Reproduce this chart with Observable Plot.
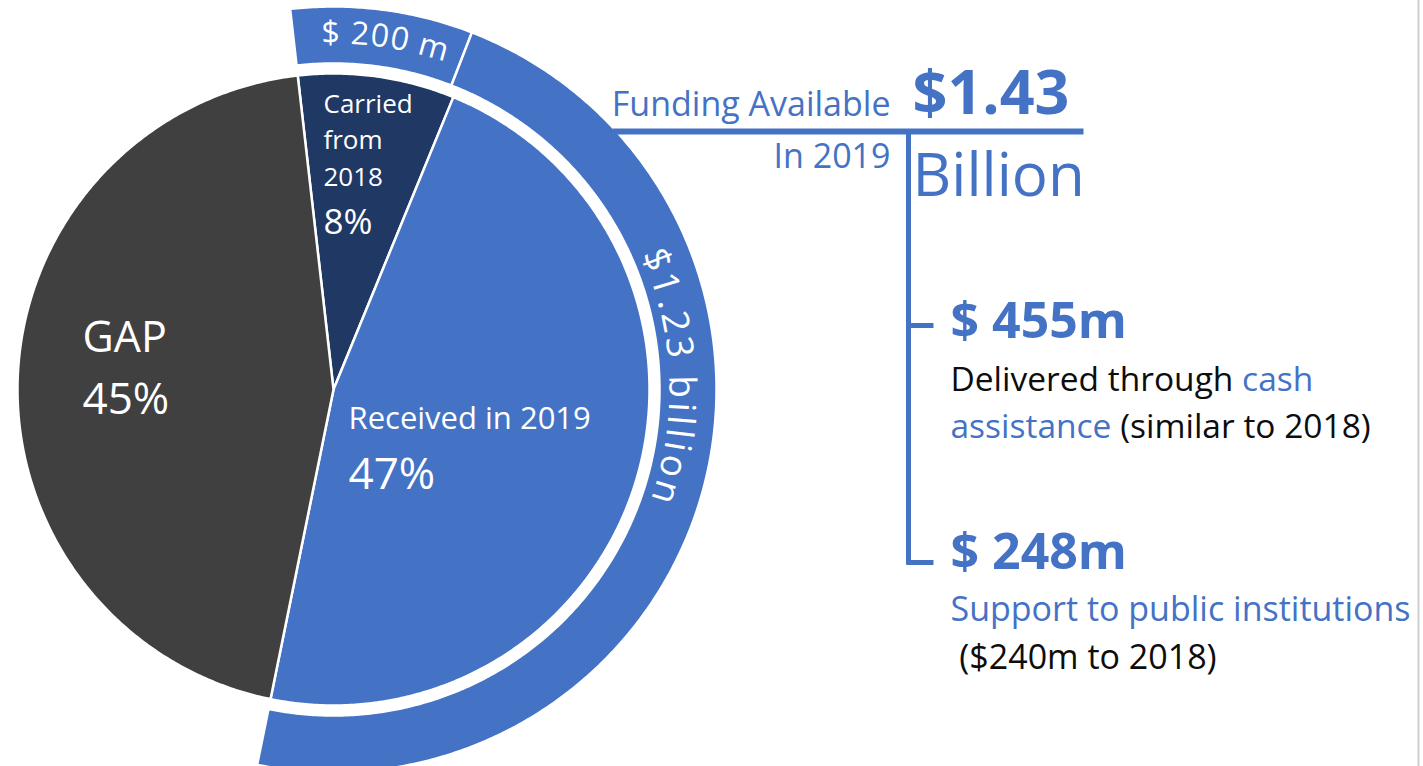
<!DOCTYPE html>
<html>
<head>
<meta charset="utf-8">
<script src="https://cdn.jsdelivr.net/npm/d3@7"></script>
<script src="https://cdn.jsdelivr.net/npm/@observablehq/plot@0.6"></script>
<style>
  html, body { margin: 0; padding: 0; background: #fff; }
  #chart { width: 1423px; height: 766px; overflow: hidden; }
  #chart svg { display: block; font-family: "Open Sans", Lato, sans-serif; }
</style>
</head>
<body>
<div id="chart"></div>
<script>
// ---------------- DATA ----------------
const sliceNames = ["Carried from 2018", "Received in 2019", "GAP"];
const sliceLabels = ["Carried\nfrom\n2018", "Received in 2019", "GAP"];
const slicePercents = [8, 47, 45];
const sliceColors = ["#1F3864", "#4472C4", "#404040"];

const ringNames = ["$ 200 m", "$1.23 billion"];
const ringValues = [200, 1230]; // $ million
const ringColor = "#4472C4";

const totalLabel = "$1.43";
const totalUnit = "Billion";
const totalCaption = ["Funding Available", "In 2019"];
const breakdownAmounts = ["$ 455m", "$ 248m"];
const breakdownLine1 = [["Delivered through ", "cash"], ["Support to public institutions"]];
const breakdownLine2 = [["assistance", " (similar to 2018)"], [" ($240m to 2018)"]];

// ---------------- LAYOUT ----------------
const W = 1423, H = 766;
const cx = 333, cy = 389;
const rPie = 316, rRingIn = 326, rRingOut = 383;
const startAngle = -6.5 * Math.PI / 180;
const BLUE = "#4472C4", BLACK = "#0d0d0d";
const FONT = "'Open Sans', Lato, sans-serif";

const pt = (a, r) => [cx + r * Math.sin(a), cy - r * Math.cos(a)];
function sector(a0, a1, r0, r1) {
  const n = Math.max(2, Math.ceil((a1 - a0) / (Math.PI / 360)));
  const outer = d3.range(n + 1).map(i => pt(a0 + (a1 - a0) * i / n, r1));
  const inner = r0 > 0 ? d3.range(n + 1).map(i => pt(a1 - (a1 - a0) * i / n, r0)) : [pt(0, 0)];
  return outer.concat(inner);
}

const pieArcs = d3.pie().sort(null).value((d, i) => slicePercents[i])
  .startAngle(startAngle).endAngle(startAngle + 2 * Math.PI)(sliceNames);
const fundedShare = (slicePercents[0] + slicePercents[1]) / d3.sum(slicePercents);
const ringArcs = d3.pie().sort(null).value((d, i) => ringValues[i])
  .startAngle(startAngle).endAngle(startAngle + 2 * Math.PI * fundedShare)(ringNames);

const shapes = [];
pieArcs.forEach((a, i) => sector(a.startAngle, a.endAngle, 0, rPie)
  .forEach(([x, y]) => shapes.push({key: "pie" + i, color: sliceColors[i], x, y})));
ringArcs.forEach((a, i) => sector(a.startAngle, a.endAngle, rRingIn, rRingOut)
  .forEach(([x, y]) => shapes.push({key: "ring" + i, color: ringColor, x, y})));

// ring label placement (angle in degrees clockwise from top, baseline radius)
const ringLabelSpec = [
  {angle: 8.5, r: 346, size: 32, spacing: 1},
  {angle: 88, r: 336, size: 37, spacing: 3.5}
];

// connector lines (decoration)
const connectors = [
  {x1: 612, y1: 131, x2: 1083, y2: 131, w: 6},
  {x1: 908, y1: 131, x2: 908, y2: 564, w: 5},
  {x1: 906, y1: 325, x2: 933, y2: 325, w: 5},
  {x1: 906, y1: 562, x2: 933, y2: 562, w: 5}
];

function label(t, x, y, o) {
  return Plot.text([t], {x: [x], y: [y], text: d => d, lineAnchor: "bottom", textAnchor: "start", fontFamily: FONT, ...o});
}

const marks = [
  Plot.line(shapes, {x: "x", y: "y", z: "key", fill: "color", stroke: "white", strokeWidth: 2.5, curve: "linear-closed"}),
  Plot.link(connectors, {x1: "x1", y1: "y1", x2: "x2", y2: "y2", stroke: BLUE, strokeWidth: d => d.w, strokeLinecap: "butt"}),
  Plot.ruleX([1418], {stroke: "#cfcfcf", strokeWidth: 2}),
  // pie labels
  label(sliceLabels[2], 82, 351, {fill: "white", fontSize: 43}),
  label(`${slicePercents[2]}%`, 82, 413, {fill: "white", fontSize: 44}),
  label(sliceLabels[0], 323, 185, {fill: "white", fontSize: 26, lineHeight: 1.4}),
  label(`${slicePercents[0]}%`, 323, 233, {fill: "white", fontSize: 35}),
  label(sliceLabels[1], 348, 428, {fill: "white", fontSize: 31}),
  label(`${slicePercents[1]}%`, 348, 488, {fill: "white", fontSize: 44}),
  // ring labels (converted to textPath after render)
  ...ringNames.map((n, i) => {
    const [x, y] = pt(ringLabelSpec[i].angle * Math.PI / 180, ringLabelSpec[i].r);
    return label(n, x, y, {fill: "white", fontSize: ringLabelSpec[i].size, textAnchor: "middle",
      rotate: ringLabelSpec[i].angle > 45 ? 90 : 0});
  }),
  // total
  label(totalCaption[0], 890, 115, {fill: BLUE, fontSize: 34, textAnchor: "end"}),
  label(totalCaption[1], 890, 167, {fill: BLUE, fontSize: 34, textAnchor: "end"}),
  label(totalLabel, 912, 113, {fill: BLUE, fontSize: 61, fontWeight: "bold"}),
  label(totalUnit, 912, 195, {fill: BLUE, fontSize: 60}),
  // breakdown
  label(breakdownAmounts[0], 950, 337, {fill: BLUE, fontSize: 50, fontWeight: "bold"}),
  label(breakdownLine1[0].join(""), 950, 390, {fill: BLACK, fontSize: 33.5}),
  label(breakdownLine2[0].join(""), 950, 437, {fill: BLACK, fontSize: 33.5}),
  label(breakdownAmounts[1], 950, 568, {fill: BLUE, fontSize: 50, fontWeight: "bold"}),
  label(breakdownLine1[1].join(""), 950, 620, {fill: BLUE, fontSize: 34}),
  label(breakdownLine2[1].join(""), 950, 668, {fill: BLACK, fontSize: 34})
];

const plot = Plot.plot({
  width: W, height: H, margin: 0,
  x: {domain: [0, W], range: [0, W], axis: null},
  y: {domain: [0, H], range: [0, H], axis: null},
  color: {type: "identity"},
  style: {background: "white", fontFamily: FONT},
  marks
});

// ---------- post-processing: curved ring labels & two-colour lines ----------
const svg = d3.select(plot);
const xs = plot.scale("x"), ys = plot.scale("y");
const findText = str => svg.selectAll("text").filter(function () { return this.textContent === str; });
const defs = svg.insert("defs", ":first-child");
ringLabelSpec.forEach((s, i) => {
  const id = "ring-label-path-" + i;
  const a = s.angle * Math.PI / 180, span = Math.PI / 3;
  const pts = d3.range(61).map(k => {
    const [x, y] = pt(a - span + 2 * span * k / 60, s.r);
    return [xs.apply(x), ys.apply(y)];
  });
  defs.append("path").attr("id", id).attr("d", d3.line()(pts));
  const t = findText(ringNames[i]);
  if (!t.empty()) {
    t.attr("transform", null).attr("x", null).attr("y", null).attr("dy", null)
      .attr("text-anchor", "middle").style("letter-spacing", s.spacing + "px").text("");
    t.append("textPath").attr("href", "#" + id).attr("startOffset", "50%").text(ringNames[i]);
  }
});
const richColors = [[BLACK, BLUE], [BLUE, BLACK]];
[breakdownLine1[0], breakdownLine2[0]].forEach((parts, j) => {
  const t = findText(parts.join(""));
  if (!t.empty()) {
    t.text("").attr("xml:space", "preserve");
    parts.forEach((p, k) => t.append("tspan").attr("fill", richColors[j][k]).style("white-space", "pre").text(p));
  }
});

document.getElementById("chart").appendChild(plot);
</script>
</body>
</html>
